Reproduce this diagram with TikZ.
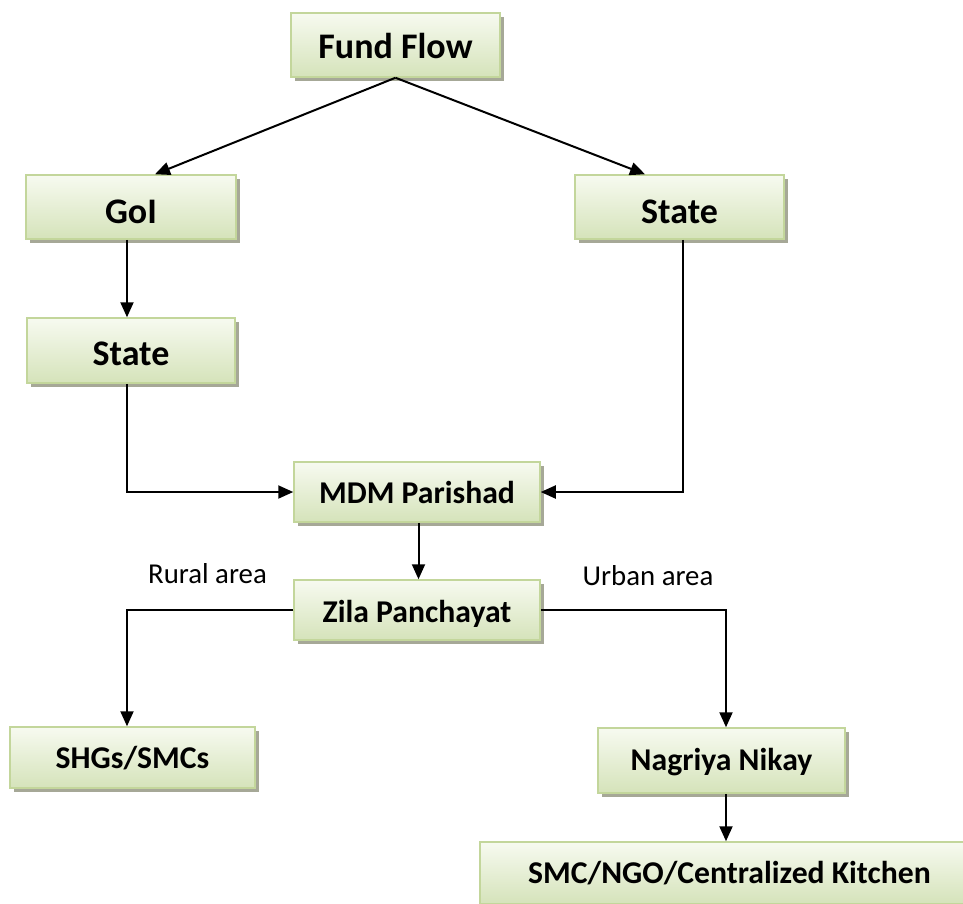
\documentclass[tikz,border=0pt]{standalone}
\usepackage{fontspec}
\setmainfont{Carlito}
\usetikzlibrary{arrows.meta,shadows,calc}
\definecolor{boxborder}{HTML}{C3D69B}
\definecolor{boxtop}{HTML}{F7FAF0}
\definecolor{boxbot}{HTML}{D5E3BA}
\definecolor{boxshadow}{HTML}{A6A897}
\tikzset{
  fbox/.style={draw=boxborder, line width=1.5pt, rectangle, inner sep=0pt,
    top color=boxtop, bottom color=boxbot, font=\bfseries,
    drop shadow={shadow xshift=3.5pt, shadow yshift=-3.5pt, fill=boxshadow, opacity=1}},
  tbase/.style={text height=#1, text depth=0pt},
  bigtxt/.style={font=\fontsize{36}{40}\selectfont\bfseries},
  smalltxt/.style={font=\fontsize{31.7}{36}\selectfont\bfseries},
  arr/.style={draw=black, line width=2pt, -{Triangle[length=15pt,width=13pt]}},
  lbl/.style={font=\fontsize{28.8}{32}\selectfont, inner sep=0pt, anchor=base}
}
\begin{document}
\begin{tikzpicture}[x=1pt,y=-1pt]
\useasboundingbox (0,0) rectangle (963,903);
\node[fbox,bigtxt,tbase=26pt,minimum width=209pt,minimum height=64pt] (ff) at (395.5,45) {Fund Flow};
\node[fbox,bigtxt,tbase=32pt,minimum width=210pt,minimum height=64pt] (goi) at (131,207) {GoI};
\node[fbox,bigtxt,tbase=32pt,minimum width=209pt,minimum height=64pt] (stateR) at (679.5,207) {State};
\node[fbox,bigtxt,tbase=29pt,minimum width=208pt,minimum height=65pt] (stateL) at (131,350.5) {State};
\node[fbox,smalltxt,tbase=22pt,minimum width=246pt,minimum height=60pt] (mdm) at (417,492) {MDM Parishad};
\node[fbox,smalltxt,tbase=24pt,minimum width=246pt,minimum height=60pt] (zila) at (417,610) {Zila Panchayat};
\node[fbox,smalltxt,tbase=21.6pt,minimum width=245pt,minimum height=61pt] (shg) at (132.5,757.5) {SHGs/SMCs};
\node[fbox,smalltxt,tbase=19pt,minimum width=247pt,minimum height=65pt] (nag) at (721.5,760.5) {Nagriya Nikay};
\node[fbox,smalltxt,tbase=20.6pt,minimum width=499pt,minimum height=62pt] (smc) at (729.5,873) {SMC/NGO/Centralized Kitchen};
\node[lbl] (rural) at (207.5,583) {Rural area};
\node[lbl] (urban) at (648,585) {Urban area};
\draw[arr] (ff.south) -- ([xshift=24pt]goi.north);
\draw[arr] (ff.south) -- ([xshift=-34.5pt]stateR.north);
\draw[arr] ([xshift=-4pt]goi.south) -- ([xshift=-4pt]stateL.north);
\draw[arr] ([xshift=-4pt]stateL.south) |- (mdm.west);
\draw[arr] ([xshift=3.5pt]stateR.south) |- (mdm.east);
\draw[arr] ([xshift=1.5pt]mdm.south) -- ([xshift=1.5pt]zila.north);
\draw[arr] (zila.west) -| ([xshift=-5.5pt]shg.north);
\draw[arr] (zila.east) -| ([xshift=4.5pt]nag.north);
\draw[arr] ([xshift=4.5pt]nag.south) -- ([xshift=4.5pt]nag.south |- smc.north);
\end{tikzpicture}
\end{document}
